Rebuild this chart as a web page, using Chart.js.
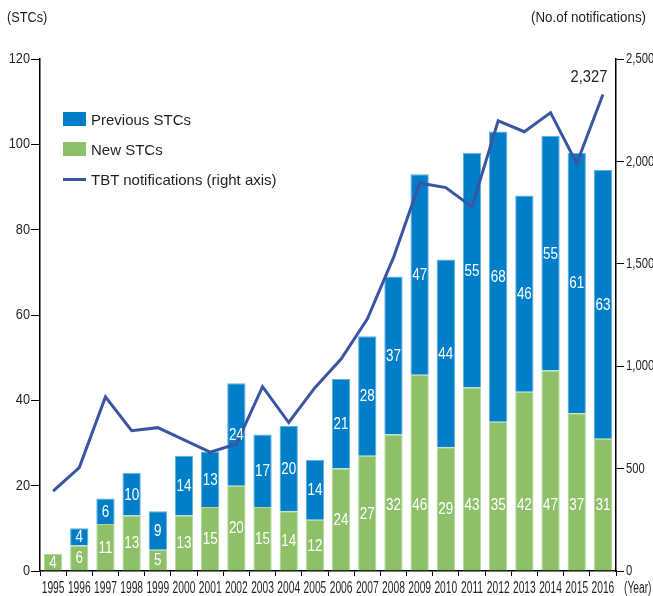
<!DOCTYPE html>
<html>
  <head>
    <meta charset="utf-8" />
    <title>STCs and TBT notifications</title>
    <script src="https://cdn.jsdelivr.net/npm/chart.js"></script>
    <style>
      body { margin: 0; background: #fff; }
      .wrap {
        position: relative;
        width: 653px;
        height: 596px;
        font-family: 'Liberation Sans', Arial, sans-serif;
        color: #231f20;
      }
      .legend { position: absolute; left: 63px; top: 104px; font-size: 15px; }
      .legend div { height: 30px; display: flex; align-items: center; }
      .legend span.sw { display: inline-block; width: 23px; height: 14px; margin-right: 5px; }
      .legend span.ln { display: inline-block; width: 23px; height: 3px; margin-right: 5px; }
    </style>
  </head>
  <body>
    <div class="wrap">
      <canvas id="stc-chart" width="653" height="596"></canvas>
      <div class="legend" id="legend"></div>
    </div>
    <script>
      var years = ['1995', '1996', '1997', '1998', '1999', '2000', '2001', '2002', '2003', '2004', '2005',
                   '2006', '2007', '2008', '2009', '2010', '2011', '2012', '2013', '2014', '2015', '2016'];
      var newStcs = [4, 6, 11, 13, 5, 13, 15, 20, 15, 14, 12, 24, 27, 32, 46, 29, 43, 35, 42, 47, 37, 31];
      var previousStcs = [0, 4, 6, 10, 9, 14, 13, 24, 17, 20, 14, 21, 28, 37, 47, 44, 55, 68, 46, 55, 61, 63];
      var tbtNotifications = [390, 505, 850, 685, 700, 640, 580, 620, 900, 725, 895, 1035, 1230, 1530,
                              1895, 1872, 1778, 2198, 2145, 2238, 1990, 2327];
      var stcTicks = [0, 20, 40, 60, 80, 100, 120];
      var notificationTicks = [0, 500, 1000, 1500, 2000, 2500];

      var blue = '#007ec7';
      var green = '#8ec06a';
      var lineBlue = '#3a55a2';
      var textColor = '#231f20';
      var fontFamily = "'Liberation Sans', Arial, sans-serif";

      // legend (inside the plot, top left)
      var legendItems = [
        { label: 'Previous STCs', color: blue, kind: 'sw' },
        { label: 'New STCs', color: green, kind: 'sw' },
        { label: 'TBT notifications (right axis)', color: lineBlue, kind: 'ln' },
      ];
      var legendEl = document.getElementById('legend');
      legendItems.forEach(function (item) {
        var row = document.createElement('div');
        row.innerHTML = '<span class="' + item.kind + '" style="background:' + item.color + '"></span>' + item.label;
        legendEl.appendChild(row);
      });

      // the original uses a condensed face, so squeeze text horizontally
      function squeezeText(ctx, text, x, y, align, size, sx) {
        ctx.save();
        ctx.translate(x, y);
        ctx.scale(sx, 1);
        ctx.font = size + 'px ' + fontFamily;
        ctx.textAlign = align;
        ctx.textBaseline = 'middle';
        ctx.fillText(text, 0, 0);
        ctx.restore();
      }

      var labelsPlugin = {
        id: 'labels',
        afterDatasetsDraw: function (chart) {
          var ctx = chart.ctx;
          var area = chart.chartArea;
          ctx.save();

          // values inside bar segments (tall green ones sit on a common line near the bottom)
          ctx.fillStyle = '#fff';
          [0, 1].forEach(function (di) {
            var meta = chart.getDatasetMeta(di);
            var values = chart.data.datasets[di].data;
            meta.data.forEach(function (bar, i) {
              if (!values[i]) return;
              var y = (bar.y + bar.base) / 2 + 1;
              if (di === 0) y = Math.max(y, area.bottom - 65);
              squeezeText(ctx, String(values[i]), bar.x, y, 'center', 16, 0.84);
            });
          });

          ctx.fillStyle = textColor;
          // last notification value
          var lineMeta = chart.getDatasetMeta(2);
          var last = lineMeta.data[lineMeta.data.length - 1];
          squeezeText(ctx, tbtNotifications[tbtNotifications.length - 1].toLocaleString('en-US'),
                      last.x - 14, last.y - 17, 'center', 16, 0.92);

          // tick labels
          var yScale = chart.scales.y;
          stcTicks.forEach(function (v) {
            squeezeText(ctx, String(v), area.left - 10, yScale.getPixelForValue(v), 'right', 15, 0.85);
          });
          var y1Scale = chart.scales.y1;
          notificationTicks.forEach(function (v) {
            squeezeText(ctx, v.toLocaleString('en-US'), area.right + 10, y1Scale.getPixelForValue(v), 'left', 15, 0.75);
          });
          var xScale = chart.scales.x;
          years.forEach(function (label, i) {
            squeezeText(ctx, label, xScale.getPixelForTick(i), area.bottom + 18, 'center', 16, 0.64);
          });

          // axis titles
          squeezeText(ctx, '(STCs)', 7, 18, 'left', 15, 0.85);
          squeezeText(ctx, '(No.of notifications)', 646, 18, 'right', 15, 0.89);
          squeezeText(ctx, '(Year)', 624, area.bottom + 18, 'left', 16, 0.64);
          ctx.restore();
        },
      };

      var chartData = {
        labels: years,
        datasets: [
          {
            type: 'bar',
            label: 'New STCs',
            data: newStcs,
            backgroundColor: green,
            borderColor: '#b3d89a',
            borderWidth: 1,
            borderSkipped: 'start',
            yAxisID: 'y',
            order: 1,
          },
          {
            type: 'bar',
            label: 'Previous STCs',
            data: previousStcs,
            backgroundColor: blue,
            borderColor: '#5cb0e4',
            borderWidth: 1,
            borderSkipped: 'start',
            yAxisID: 'y',
            order: 1,
          },
          {
            type: 'line',
            label: 'TBT notifications (right axis)',
            data: tbtNotifications,
            borderColor: lineBlue,
            borderWidth: 3,
            pointRadius: 0,
            tension: 0,
            fill: false,
            yAxisID: 'y1',
            order: 0,
          },
        ],
      };

      var chartOptions = {
        responsive: false,
        animation: false,
        layout: { padding: { top: 59, left: 0, right: 0, bottom: 0 } },
        datasets: { bar: { categoryPercentage: 1, barPercentage: 0.7 } },
        plugins: { legend: { display: false }, tooltip: { enabled: false } },
        scales: {
          x: {
            stacked: true,
            grid: { display: true, drawOnChartArea: false, drawTicks: true, tickLength: 5, color: '#000', offset: true },
            border: { color: '#000', width: 1.5 },
            ticks: { display: false, autoSkip: false, maxRotation: 0, minRotation: 0 },
            afterFit: function (scale) { scale.height = 25; },
          },
          y: {
            stacked: true,
            position: 'left',
            min: 0,
            max: 120,
            afterBuildTicks: function (scale) { scale.ticks = stcTicks.map(function (v) { return { value: v }; }); },
            grid: { drawOnChartArea: false, tickLength: 9, color: '#000' },
            border: { color: '#000', width: 1.5 },
            ticks: { display: false },
            afterFit: function (scale) { scale.width = 40; },
          },
          y1: {
            position: 'right',
            min: 0,
            max: 2500,
            afterBuildTicks: function (scale) { scale.ticks = notificationTicks.map(function (v) { return { value: v }; }); },
            grid: { drawOnChartArea: false, tickLength: 8, color: '#000' },
            border: { color: '#000', width: 1.5 },
            ticks: { display: false },
            afterFit: function (scale) { scale.width = 37; },
          },
        },
      };

      var stcChart = new Chart(document.getElementById('stc-chart').getContext('2d'), {
        type: 'bar',
        data: chartData,
        options: chartOptions,
        plugins: [labelsPlugin],
      });
    </script>
  </body>
</html>
